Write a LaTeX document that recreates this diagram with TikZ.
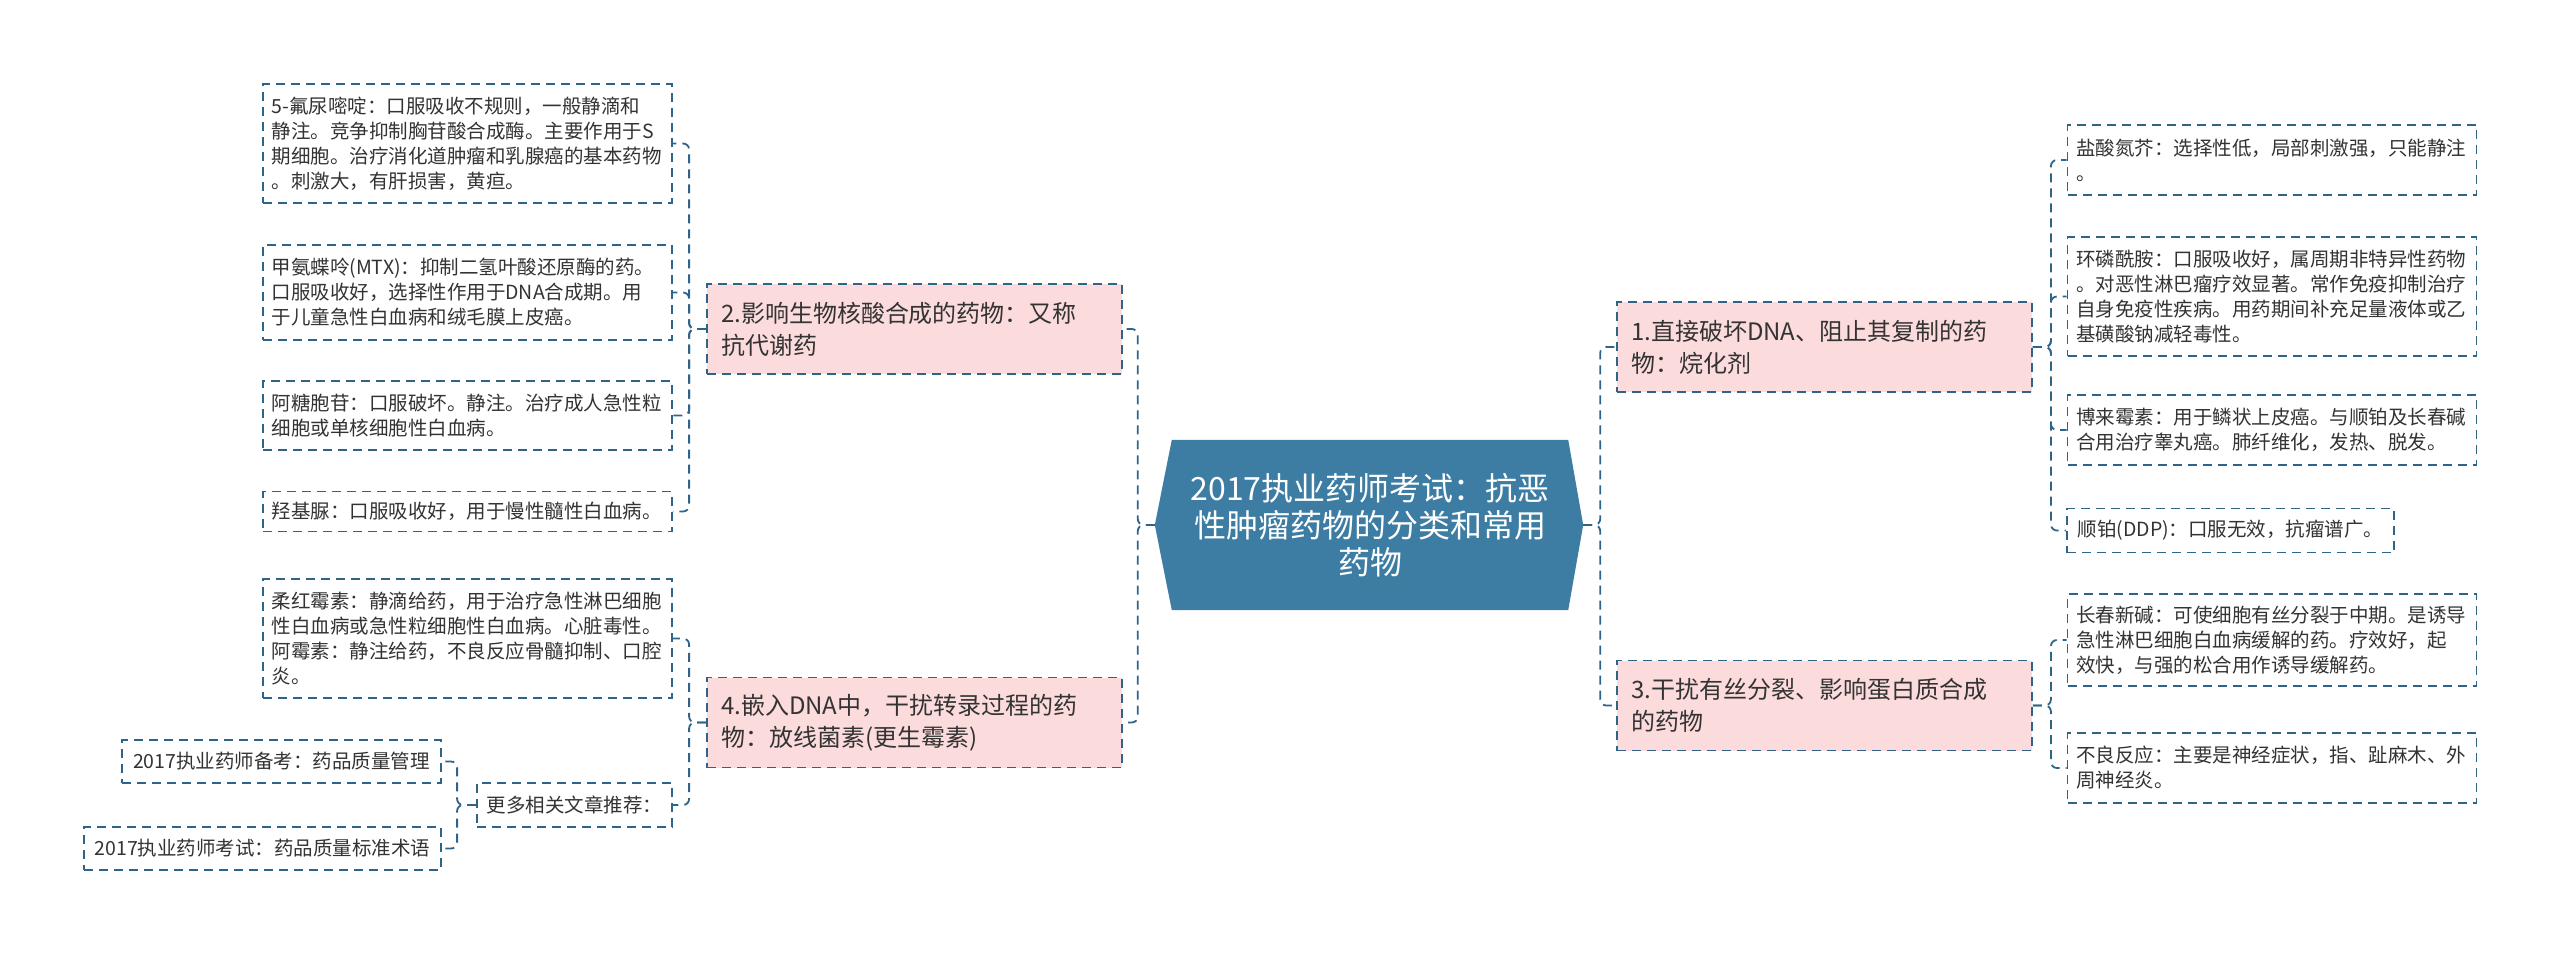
\documentclass[tikz,border=0pt]{standalone}
\usepackage{fontspec}
\usepackage{tikz}
\usetikzlibrary{calc,backgrounds}
\newfontfamily\cjk{Noto Sans CJK SC}
\definecolor{themeblue}{RGB}{61,125,163}
\definecolor{linecol}{RGB}{47,100,138}
\definecolor{subbg}{RGB}{251,219,219}
\colorlet{textcol}{black!80}

\begin{document}
\begin{tikzpicture}[x=1pt,y=-1pt,every node/.style={text=textcol},
    leaf/.style={draw=linecol,line width=1.8pt,dash pattern=on 9pt off 6pt,fill=white,font=\cjk\fontsize{19.5}{25}\selectfont,inner xsep=8.5pt,inner ysep=3pt},
    wideleaf/.style={leaf,text width=392pt,align=left},
    sub/.style={draw=linecol,line width=1.8pt,dash pattern=on 9pt off 6pt,fill=subbg,font=\cjk\fontsize{24}{32}\selectfont,text width=387pt,inner xsep=14pt,align=left,minimum height=90pt},
    topic/.style={font=\cjk\fontsize{32}{37}\selectfont,text=white,align=center,minimum width=396pt,minimum height=170pt,inner sep=0pt},
    link/.style={draw=linecol,line width=1.8pt,dash pattern=on 9pt off 6pt,rounded corners=6pt}]
        \useasboundingbox (0,0) rectangle (2560,954);
        \node[topic] (root) at (1370,525) {2017执业药师考试：抗恶\\性肿瘤药物的分类和常用\\药物};
        \coordinate (rootW) at ($(root.west)+(-17,0)$);
        \coordinate (rootE) at ($(root.east)+(15,0)$);
        \begin{scope}[on background layer]
          \fill[themeblue] (rootW)--(root.north west)--(root.north east)--(rootE)--(root.south east)--(root.south west)--cycle;
        \end{scope}
        \node[sub] (n2) at (914.5,329) {2.影响生物核酸合成的药物：又称\\抗代谢药};
        \node[sub] (n4) at (914.5,722.5) {4.嵌入DNA中，干扰转录过程的药\\物：放线菌素(更生霉素)};
        \node[sub] (n1) at (1824.5,347) {1.直接破坏DNA、阻止其复制的药\\物：烷化剂};
        \node[sub] (n3) at (1824.5,705.5) {3.干扰有丝分裂、影响蛋白质合成\\的药物};
        \node[wideleaf,minimum height=119pt] (fu) at (467.5,143.5) {5-氟尿嘧啶：口服吸收不规则，一般静滴和\\静注。竞争抑制胸苷酸合成酶。主要作用于S\\期细胞。治疗消化道肿瘤和乳腺癌的基本药物\\。刺激大，有肝损害，黄疸。};
        \node[wideleaf,minimum height=95pt] (mtx) at (467.5,292.5) {甲氨蝶呤(MTX)：抑制二氢叶酸还原酶的药。\\口服吸收好，选择性作用于DNA合成期。用\\于儿童急性白血病和绒毛膜上皮癌。};
        \node[wideleaf,minimum height=69pt] (ara) at (467.5,415.5) {阿糖胞苷：口服破坏。静注。治疗成人急性粒\\细胞或单核细胞性白血病。};
        \node[wideleaf,minimum height=40pt] (hu) at (467.5,511.5) {羟基脲：口服吸收好，用于慢性髓性白血病。};
        \node[wideleaf,minimum height=119pt] (dnr) at (467.5,638.5) {柔红霉素：静滴给药，用于治疗急性淋巴细胞\\性白血病或急性粒细胞性白血病。心脏毒性。\\阿霉素：静注给药，不良反应骨髓抑制、口腔\\炎。};
        \node[leaf,minimum width=195pt,minimum height=44pt] (more) at (574.5,805) {更多相关文章推荐：};
        \node[leaf,minimum width=319pt,minimum height=43pt] (bk1) at (281.5,761.5) {2017执业药师备考：药品质量管理};
        \node[leaf,minimum width=357pt,minimum height=43pt] (bk2) at (262.5,848.5) {2017执业药师考试：药品质量标准术语};
        \node[wideleaf,minimum height=70pt] (hn) at (2272,160) {盐酸氮芥：选择性低，局部刺激强，只能静注\\。};
        \node[wideleaf,minimum height=119pt] (cp) at (2272,296.5) {环磷酰胺：口服吸收好，属周期非特异性药物\\。对恶性淋巴瘤疗效显著。常作免疫抑制治疗\\自身免疫性疾病。用药期间补充足量液体或乙\\基磺酸钠减轻毒性。};
        \node[wideleaf,minimum height=70pt] (bl) at (2272,430) {博来霉素：用于鳞状上皮癌。与顺铂及长春碱\\合用治疗睾丸癌。肺纤维化，发热、脱发。};
        \node[leaf,minimum width=327pt,minimum height=44pt] (ddp) at (2230.5,530.5) {顺铂(DDP)：口服无效，抗瘤谱广。};
        \node[wideleaf,minimum height=92pt] (vcr) at (2272,640) {长春新碱：可使细胞有丝分裂于中期。是诱导\\急性淋巴细胞白血病缓解的药。疗效好，起\\效快，与强的松合用作诱导缓解药。};
        \node[wideleaf,minimum height=70pt] (adv) at (2272,768) {不良反应：主要是神经症状，指、趾麻木、外\\周神经炎。};
        \draw[link] (rootW) -- ++(-17,0) |- (n2.east);
        \draw[link] (rootW) -- ++(-17,0) |- (n4.east);
        \draw[link] (rootE) -- ++(17,0) |- (n1.west);
        \draw[link] (rootE) -- ++(17,0) |- (n3.west);
        \draw[link] (n2.west) -- ++(-17,0) |- (fu.east);
        \draw[link] (n2.west) -- ++(-17,0) |- (mtx.east);
        \draw[link] (n2.west) -- ++(-17,0) |- (ara.east);
        \draw[link] (n2.west) -- ++(-17,0) |- (hu.east);
        \draw[link] (n4.west) -- ++(-17,0) |- (dnr.east);
        \draw[link] (n4.west) -- ++(-17,0) |- (more.east);
        \draw[link] (more.west) -- ++(-19,0) |- (bk1.east);
        \draw[link] (more.west) -- ++(-19,0) |- (bk2.east);
        \draw[link] (n1.east) -- ++(18,0) |- (hn.west);
        \draw[link] (n1.east) -- ++(18,0) |- (cp.west);
        \draw[link] (n1.east) -- ++(18,0) |- (bl.west);
        \draw[link] (n1.east) -- ++(18,0) |- (ddp.west);
        \draw[link] (n3.east) -- ++(18,0) |- (vcr.west);
        \draw[link] (n3.east) -- ++(18,0) |- (adv.west);
      \end{tikzpicture}
\end{document}
